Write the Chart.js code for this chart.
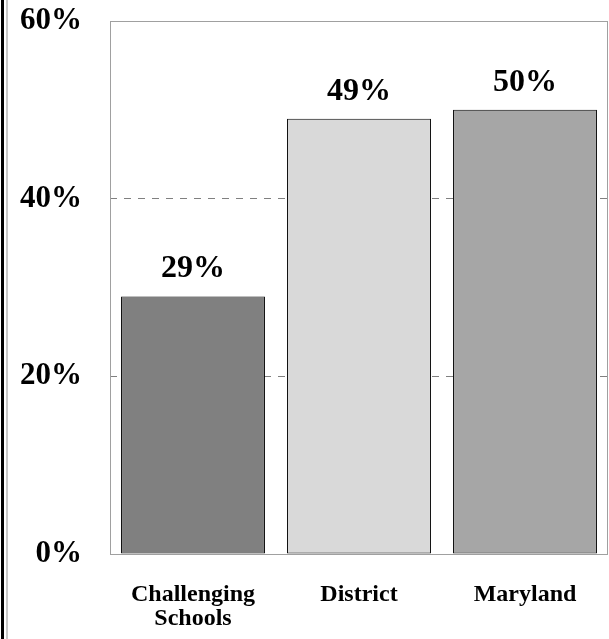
<!DOCTYPE html>
<html>
<head>
<meta charset="utf-8">
<script src="https://cdn.jsdelivr.net/npm/chart.js@4"></script>
<style>
    html, body { margin: 0; padding: 0; background: #fff; }
    #wrap { width: 609px; height: 639px; }
</style>
</head>
<body>
<div id="wrap"><canvas id="rateChart" width="609" height="639"></canvas></div>
<script>
// ========== 数据 ==========
const categories = [['Challenging', 'Schools'], 'District', 'Maryland'];
const rates = [29, 49, 50];
const barColors = ['#808080', '#d9d9d9', '#a6a6a6'];
const yTicks = [0, 20, 40, 60];

const serif = '"Liberation Serif", "Times New Roman", serif';

// 左侧边框 + 绘图区外框
const framePlugin = {
    id: 'frame',
    beforeDatasetsDraw(chart) {
        const ctx = chart.ctx;
        const a = chart.chartArea;
        ctx.save();
        ctx.strokeStyle = '#a0a0a0';
        ctx.lineWidth = 1;
        ctx.strokeRect(Math.round(a.left) + 0.5, Math.round(a.top) + 0.5,
            Math.round(a.right - a.left) - 1, Math.round(a.bottom - a.top));
        ctx.fillStyle = '#000';
        ctx.fillRect(1, 0, 3, chart.height);
        ctx.fillStyle = '#c8c8c8';
        ctx.fillRect(6, 0, 2, chart.height);
        ctx.restore();
    }
};

// 柱顶数值标签
const valueLabels = {
    id: 'valueLabels',
    afterDatasetsDraw(chart) {
        const ctx = chart.ctx;
        const meta = chart.getDatasetMeta(0);
        ctx.save();
        ctx.font = 'bold 32px ' + serif;
        ctx.fillStyle = '#000';
        ctx.textAlign = 'center';
        ctx.textBaseline = 'alphabetic';
        meta.data.forEach((bar, i) => {
            ctx.fillText(rates[i] + '%', bar.x, bar.y - 19);
        });
        ctx.restore();
    }
};

new Chart(document.getElementById('rateChart').getContext('2d'), {
    type: 'bar',
    data: {
        labels: categories,
        datasets: [{
            data: rates,
            backgroundColor: barColors,
            borderColor: '#000',
            borderWidth: 1,
            borderSkipped: false,
            categoryPercentage: 1,
            barPercentage: 0.867
        }]
    },
    options: {
        responsive: false,
        animation: false,
        layout: { padding: { left: 0, right: 1, top: 21, bottom: 0 } },
        plugins: { legend: { display: false }, tooltip: { enabled: false } },
        scales: {
            x: {
                grid: { display: false, drawTicks: false },
                border: { display: false },
                ticks: {
                    color: '#000',
                    padding: 29,
                    maxRotation: 0,
                    font: { family: serif, size: 24, weight: 'bold', lineHeight: 1.0 }
                },
                afterFit(scale) {
                    scale.height = 85;
                    scale.paddingLeft = 0;
                    scale.paddingRight = 0;
                }
            },
            y: {
                min: 0,
                max: 60,
                afterBuildTicks(scale) { scale.ticks = yTicks.map(v => ({ value: v })); },
                grid: {
                    drawTicks: false,
                    color: c => (c.tick && c.tick.value > 0 && c.tick.value < 60) ? '#808080' : 'rgba(0,0,0,0)'
                },
                border: { display: false, dash: [7, 7] },
                ticks: {
                    color: '#000',
                    padding: 28,
                    font: { family: serif, size: 31, weight: 'bold' },
                    callback: v => v + '%'
                },
                afterFit(scale) {
                    scale.width = 110;
                    scale.paddingTop = 0;
                    scale.paddingBottom = 0;
                }
            }
        }
    },
    plugins: [framePlugin, valueLabels]
});
</script>
</body>
</html>
